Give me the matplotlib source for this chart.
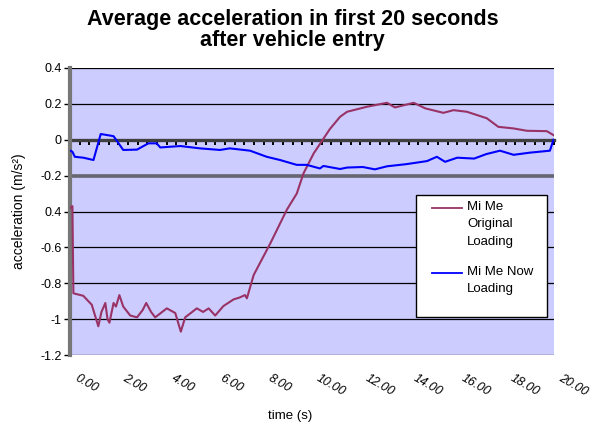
import matplotlib

matplotlib.use("Agg")
import matplotlib.pyplot as plt
from matplotlib.lines import Line2D
from matplotlib.patches import Rectangle
from matplotlib.transforms import blended_transform_factory

# ---- data ------------------------------------------------------------------
t_orig = [0.0, 0.1, 0.14, 0.55, 0.9, 1.17, 1.3, 1.46, 1.55, 1.63, 1.8, 1.9, 2.04,
          2.2, 2.49, 2.77, 3.0, 3.15, 3.35, 3.52, 4.0, 4.35, 4.58, 4.76, 5.24,
          5.5, 5.73, 6.0, 6.34, 6.76, 7.0, 7.23, 7.31, 7.59, 8.28, 8.96, 9.37,
          9.65, 10.07, 10.74, 11.16, 11.45, 12.27, 13.1, 13.43, 14.2, 14.68,
          15.43, 15.85, 16.4, 17.22, 17.7, 18.33, 18.88, 19.7, 19.98]
a_orig = [-0.38, -0.37, -0.856, -0.87, -0.92, -1.04, -0.96, -0.91, -1.0, -1.02,
          -0.91, -0.93, -0.866, -0.93, -0.98, -0.99, -0.95, -0.91, -0.96, -0.99,
          -0.94, -0.966, -1.07, -0.99, -0.94, -0.96, -0.94, -0.98, -0.927,
          -0.89, -0.88, -0.866, -0.884, -0.754, -0.577, -0.39, -0.3, -0.187,
          -0.076, 0.06, 0.128, 0.156, 0.184, 0.206, 0.18, 0.206, 0.175, 0.15,
          0.165, 0.156, 0.12, 0.072, 0.063, 0.05, 0.048, 0.026]

t_new = [0.0, 0.1, 0.2, 0.55, 0.97, 1.27, 1.8, 2.2, 2.77, 3.24, 3.58, 3.73, 4.56,
         5.37, 6.2, 6.6, 7.44, 8.13, 8.68, 9.37, 9.78, 10.33, 10.47, 11.16,
         11.45, 12.1, 12.6, 13.1, 13.9, 14.75, 15.16, 15.5, 16.0, 16.7, 17.2,
         17.77, 18.33, 19.0, 19.83, 19.98]
a_new = [-0.06, -0.067, -0.095, -0.1, -0.113, 0.032, 0.02, -0.057, -0.055, -0.02,
         -0.02, -0.043, -0.035, -0.048, -0.057, -0.048, -0.061, -0.095, -0.113,
         -0.14, -0.14, -0.16, -0.146, -0.163, -0.155, -0.152, -0.165, -0.148,
         -0.136, -0.119, -0.095, -0.123, -0.1, -0.105, -0.08, -0.061, -0.084,
         -0.072, -0.061, 0.0]

y_ticks = [0.4, 0.2, 0.0, -0.2, -0.4, -0.6, -0.8, -1.0, -1.2]
y_labels = ["0.4", "0.2", "0", "-0.2", "0.4", "-0.6", "-0.8", "-1", "-1.2"]
x_ticks = [0, 2, 4, 6, 8, 10, 12, 14, 16, 18, 20]
x_labels = ["0.00", "2.00", "4.00", "6.00", "8.00", "10.00", "12.00",
            "14.00", "16.00", "18.00", "20.00"]
series_names = ["Mi Me\nOriginal\nLoading", "Mi Me Now\nLoading"]
series_colors = ["#993366", "#0000ff"]

plt.rcParams["font.family"] = ["Liberation Sans", "DejaVu Sans"]

W, H = 597, 430
fig = plt.figure(figsize=(W / 100, H / 100), dpi=100)
ax = fig.add_axes([70 / W, 1 - 355 / H, 484 / W, 287 / H])
ax.set_facecolor("#ccccff")

ax.set_xlim(0, 20)
ax.set_ylim(-1.2, 0.4)

# gridlines
for y in y_ticks:
    if y == 0:
        continue
    if y == -0.2:
        ax.axhline(y, color="#666670", lw=2.6, zorder=1)
    else:
        ax.axhline(y, color="black", lw=0.9, zorder=1)

ax.plot(t_orig, a_orig, color=series_colors[0], lw=1.5, zorder=3)
ax.plot(t_new, a_new, color=series_colors[1], lw=1.5, zorder=3)

# category axis crossing at zero, with small ticks
for s in ["top", "right"]:
    ax.spines[s].set_visible(False)
ax.spines["bottom"].set_position(("data", 0))
ax.spines["bottom"].set_color("#404040")
ax.spines["bottom"].set_linewidth(2.4)
ax.spines["bottom"].set_zorder(2)
ax.spines["left"].set_color("#777777")
ax.spines["left"].set_linewidth(3)
ax.set_xticks([i * 0.4 for i in range(51)])
ax.tick_params(axis="x", direction="out", length=3.5, width=1.4, color="black",
               labelbottom=False)
ax.set_yticks(y_ticks)
ax.set_yticklabels(y_labels, fontsize=9)
ax.tick_params(axis="y", direction="out", length=4, width=1, color="black", pad=2)

trans = blended_transform_factory(ax.transData, ax.transAxes)
for xt, lab in zip(x_ticks, x_labels):
    ax.text(xt + 0.35, -0.06, lab, transform=trans, rotation=-30, fontsize=9,
            style="italic", ha="left", va="top", rotation_mode="anchor")

ax.set_xlabel("time (s)", fontsize=9.5)
ax.xaxis.set_label_coords(0.455, -0.19)
ax.set_ylabel("acceleration (m/s²)", fontsize=10)
ax.yaxis.set_label_coords(-0.09, 0.5)

fig.text(0.49, 0.978, "Average acceleration in first 20 seconds\nafter vehicle entry",
         ha="center", va="top", fontsize=15.5, fontweight="bold", linespacing=1.0)

# legend box, laid out like the Excel one (handle level with first text line)
ft = fig.transFigure
fig.patches.append(Rectangle((416 / W, 1 - 317 / H), 131 / W, 122 / H, transform=ft,
                             facecolor="white", edgecolor="black", lw=1.0, zorder=5))
for name, col, y0 in zip(series_names, series_colors, [208, 273]):
    fig.lines.append(Line2D([432 / W, 462 / W], [1 - y0 / H] * 2, transform=ft,
                            color=col, lw=1.3, zorder=6))
    fig.text(467 / W, 1 - (y0 - 7) / H, name, transform=ft, fontsize=9.5,
             ha="left", va="top", linespacing=1.6, zorder=6)

fig.savefig("out.png", dpi=100)
